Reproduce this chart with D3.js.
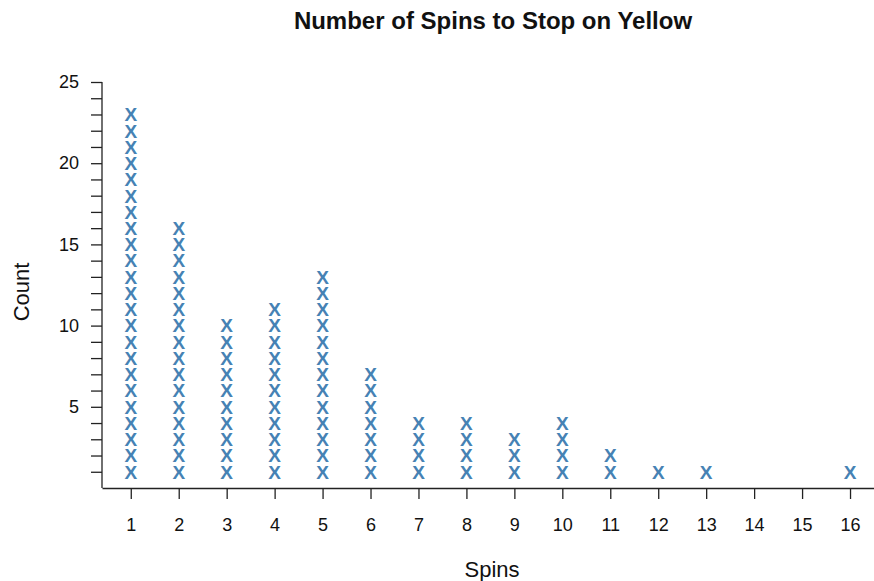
<!DOCTYPE html>
<html><head><meta charset="utf-8">
<script src="https://cdn.jsdelivr.net/npm/d3@7"></script>
<style>body{margin:0;background:#fff}svg{display:block}text{font-family:"Liberation Sans",Arial,sans-serif}</style>
</head><body><svg id="c" width="874" height="581"></svg>
<script>
const spins = [1,2,3,4,5,6,7,8,9,10,11,12,13,14,15,16];
const counts = [23,16,10,11,13,7,4,4,3,4,2,1,1,0,0,1];
const yTickLabels = [5,10,15,20,25];
const title = "Number of Spins to Stop on Yellow";
const xLabel = "Spins";
const yLabel = "Count";

const svg = d3.select("#c");
const x = d3.scaleLinear().domain([0.4, 16.5]).range([102, 874]);
const y = d3.scaleLinear().domain([0, 25]).range([488, 82]);

// points
const pts = [];
spins.forEach((s,i)=>{ for(let k=1;k<=counts[i];k++) pts.push({s,k}); });
svg.append("g").selectAll("text").data(pts).join("text")
  .attr("x", d=>x(d.s)).attr("y", d=>y(d.k))
  .attr("text-anchor","middle").attr("dy","0.36em")
  .style("font-size","19px").style("font-weight","bold").attr("fill","#4682b4")
  .text("X");

// x axis
const xa = svg.append("g").attr("transform","translate(0,488)")
  .call(d3.axisBottom(x).tickValues(spins).tickFormat(d3.format("d")).tickSize(11).tickSizeOuter(0).tickPadding(19));
// y axis
const ya = svg.append("g").attr("transform","translate(102,0)")
  .call(d3.axisLeft(y).tickValues(d3.range(1,26)).tickFormat(d=>yTickLabels.includes(d)?d:"").tickSize(11).tickSizeOuter(0).tickPadding(12));
[xa,ya].forEach(g=>{
  g.attr("font-size",null).attr("font-family",null);
  g.selectAll("path").attr("stroke","#222").attr("stroke-width",1.3);
  g.selectAll("line").attr("stroke","#222").attr("stroke-width",1.3);
  g.selectAll("text").style("font-size","18px").attr("fill","#111");
});
ya.select("path").attr("d","M0,82V488");

svg.append("text").attr("x",493).attr("y",29).attr("text-anchor","middle")
  .style("font-size","24px").style("font-weight","bold").attr("fill","#111").text(title);
svg.append("text").attr("x",492).attr("y",577).attr("text-anchor","middle")
  .style("font-size","22px").attr("fill","#111").text(xLabel);
svg.append("text").attr("transform","translate(29,292) rotate(-90)").attr("text-anchor","middle")
  .style("font-size","22px").attr("fill","#111").text(yLabel);
</script></body></html>
